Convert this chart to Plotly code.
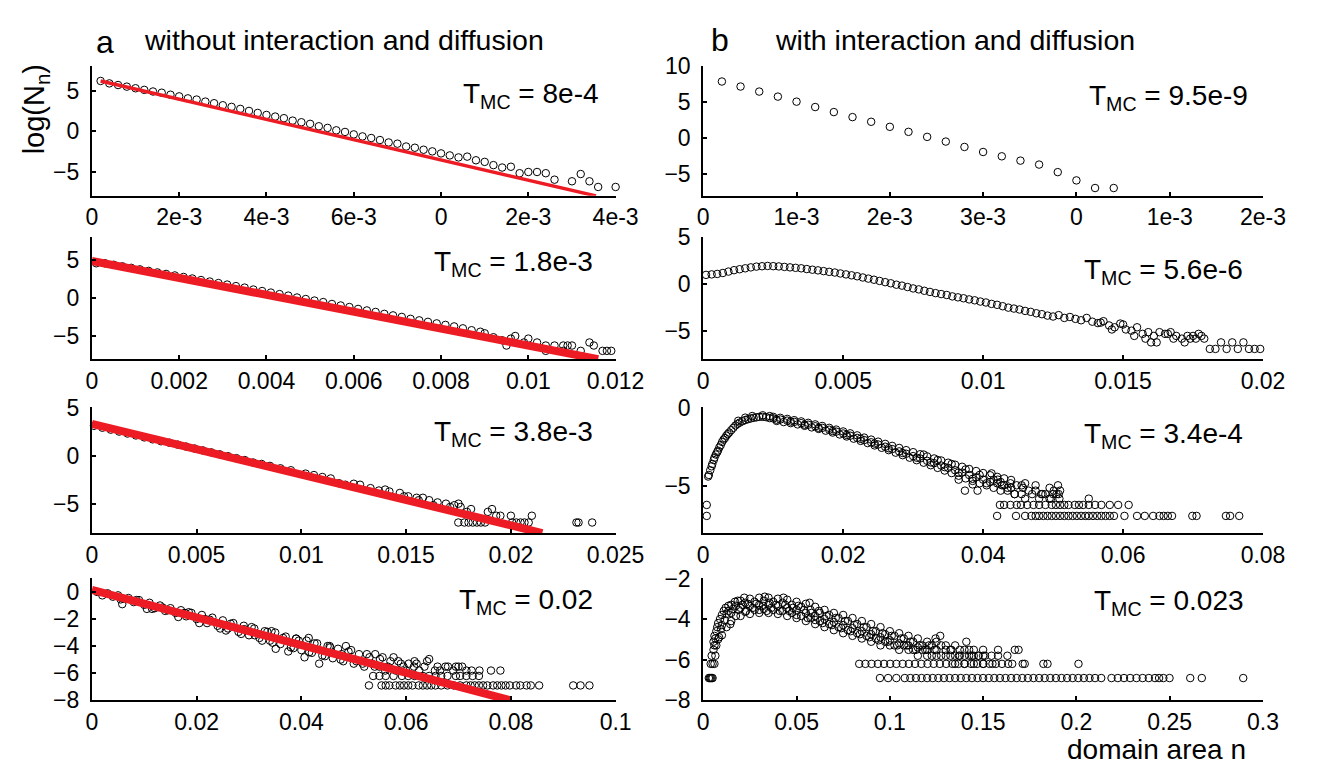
import plotly.graph_objects as go

FONT = "Liberation Sans, Arial, Helvetica, sans-serif"
RED = "#ed1c24"
LV1, LV2 = -6.91, -6.21   # discrete lowest levels (1 and 2 counts)

# ---------------- a1 : T_MC = 8e-4 ----------------
a1_x = [.0002,.0004,.0006,.0008,.0010,.0012,.0014,.0016,.0018,.0020,.0022,.0024,.0026,.0028,.0030,.0032,.0034,.0036,.0038,.0040,
        .0042,.0044,.0046,.0048,.0050,.0052,.0054,.0056,.0058,.0060,.0062,.0064,.0066,.0068,.0070,.0072,.0074,.0076,.0078,.0080,
        .0082,.0084,.0086,.0088,.0090,.0092,.0094,.0096,.0098,.0100,.0102,.0104,.0106,.0110,.0112,.0114,.0116,.0120]
a1_y = [6.2,5.9,5.7,5.5,5.3,5.1,4.9,4.75,4.5,4.3,4.05,3.9,3.65,3.45,3.2,3.0,2.75,2.5,2.25,2.0,
        1.8,1.6,1.3,1.1,0.9,0.6,0.4,0.1,-0.1,-0.4,-0.65,-0.85,-1.1,-1.4,-1.55,-1.9,-2.05,-2.3,-2.5,-2.75,
        -3.0,-3.25,-3.15,-3.6,-3.8,-4.2,-4.5,-4.4,-5.2,-5.05,-5.05,-5.2,-6.0,-6.2,-5.3,-6.2,-6.9,-6.9]
a1_fit_x = [0.0002, 0.01155]
a1_fit_y = [6.2, -8.0]

# ---------------- a2 : T_MC = 1.8e-3 ----------------
a2_x = [.0001,.0003,.0005,.0007,.0009,.0011,.0013,.0015,.0017,.0019,.0021,.0023,.0025,.0027,.0029,.0031,.0033,.0035,.0037,.0039,
        .0041,.0043,.0045,.0047,.0049,.0051,.0053,.0055,.0057,.0059,.0061,.0063,.0065,.0067,.0069,.0071,.0073,.0075,.0077,.0079,
        .0081,.0083,.0085,.0087,.0089]
a2_y = [4.6,4.6,4.4,4.2,4.0,3.8,3.6,3.4,3.2,3.0,2.8,2.6,2.4,2.2,2.0,1.8,1.6,1.4,1.15,0.95,
        0.75,0.55,0.35,0.1,-0.1,-0.3,-0.5,-0.75,-0.95,-1.15,-1.4,-1.6,-1.8,-2.05,-2.25,-2.45,-2.7,-2.9,-3.1,-3.3,
        -3.5,-3.7,-3.95,-4.2,-4.4]
a2_tail_x = [.0090,.0092,.0094,.0095,.0096,.0097,.0099,.0100,.0102,.0104,.0104,.0106,.0108,.0108,.0109,.0110,.0112,.0114,.0115,.0117,.0118,.0119]
a2_tail_y = [-4.6,-5.12,-5.52,-6.21,-5.3,-4.96,-5.81,-5.3,-5.81,-6.21,-6.91,-6.21,-6.21,-6.91,-6.21,-6.21,-6.91,-5.81,-6.21,-6.91,-6.91,-6.91]
a2_fit_x = [0.0, 0.0116]
a2_fit_y = [4.9, -8.0]

# ---------------- a3 : T_MC = 3.8e-3 ----------------
a3_x = [.0001,.0005,.0009,.0013,.0017,.0021,.0025,.0029,.0033,.0037,.0041,.0045,.0049,.0053,.0057,.0061,.0065,.0069,.0073,.0077,.0081,.0085]
a3_y = [3.1,2.9,2.7,2.5,2.3,2.1,1.9,1.7,1.5,1.35,1.15,0.95,0.75,0.55,0.35,0.15,-0.05,-0.25,-0.45,-0.7,-0.85,-1.05]
a3_tail_x = [.0090,.0095,.0102,.0106,.0110,.0114,.0118,.0121,.0125,.0128,.0133,.0137,.0140,.0142,.0147,.0149,.0151,.0155,
             .0156,.0158,.0161,.0163,.0165,.0169,.0171,.0173,.0175,.0176,.0179,.0181,.0189,.0191,.0193,.0195,.0200,.0210]
a3_tail_y = [-1.3,-1.5,-1.85,-2.0,-2.2,-2.35,-2.85,-3.0,-2.9,-3.0,-3.35,-3.6,-3.5,-3.7,-3.85,-4.2,-4.2,-4.35,
             -4.6,-4.35,-4.6,-5.12,-4.83,-4.96,-5.3,-5.12,-4.96,-5.3,-5.81,-5.52,-5.81,-5.52,-6.21,-6.21,-6.21,-6.21]
a3_row1_x = [.01749,.01778,.01798,.01818,.01838,.01857,.01877,.02006,.02026,.02046,.02065,.02085,.02313,.02323,.02388]
a3_fit_x = [0.0, 0.0215]
a3_fit_y = [3.3, -8.0]

# ---------------- a4 : T_MC = 0.02 ----------------
a4_x = [.001,.003,.004,.005,.006,.007,.008,.009,.010,.011,.012,.013,.014,.015,.016,.017,.018,.019,.020,.021,
        .022,.023,.024,.025,.026,.027,.028,.029,.030,.031,.032,.033,.034,.035,.036,.037,.038,.039,.040,.041,
        .042,.043,.044,.045,.046,.047,.048,.049,.050,.051,.052,.053,.054,.055,.056,.057,.058,.059,.060]
a4_y = [0.0,-0.1,-0.35,-0.25,-0.5,-0.45,-0.75,-0.6,-0.95,-0.8,-1.2,-1.0,-1.4,-1.2,-1.55,-1.35,-1.8,-1.55,-2.0,-1.7,
        -2.3,-1.9,-2.5,-2.1,-2.7,-2.3,-2.95,-2.5,-3.2,-2.7,-3.4,-2.9,-3.6,-3.0,-3.85,-3.3,-4.1,-3.45,-4.3,-3.6,
        -4.5,-3.8,-4.7,-4.0,-4.9,-4.2,-5.12,-4.4,-5.3,-4.6,-5.52,-4.83,-5.52,-4.96,-5.81,-5.12,-5.81,-5.3,-5.81]
a4_ext_x = [.0058,.0105,.0145,.0177,.0216,.0256,.0291,.0311,.0343,.0351,.0375,.0390,.0414,.0406,.0434,.0454,.0485,.0477,
            .0517,.0541,.0549,.0576,.0616,.0644,.0675,.0707,.0620,.0640,.0660,.0680,.0700,.0615,.0725,.0762,.0655,.0690]
a4_ext_y = [-0.9,-1.25,-1.35,-1.55,-2.0,-2.85,-2.75,-3.2,-2.9,-4.2,-4.4,-3.45,-3.4,-4.83,-5.3,-4.0,-4.0,-4.6,
            -5.3,-4.6,-5.52,-4.83,-5.12,-4.96,-5.52,-5.52,-5.3,-5.12,-5.52,-5.52,-5.52,-5.52,-5.81,-5.81,-5.81,-5.81]
a4_fill_x = [.0020,.0055,.0085,.0115,.0135,.0165,.0185,.0205,.0225,.0245,.0265,.0285,.0305,.0325,.0335,.0345,.0365,.0385,.0395,.0415,
             .0425,.0445,.0455,.0475,.0495,.0505,.0525,.0535,.0555,.0565,.0585,.0595,.0605,.0625,.0635,.0665,.0695,.0715,.0740,.0780]
a4_fill_y = [-0.25,-0.55,-0.6,-1.25,-1.15,-1.85,-1.5,-2.3,-2.05,-2.7,-2.35,-3.1,-2.6,-3.6,-2.95,-3.75,-3.4,-4.15,-3.6,-4.45,
             -3.8,-4.75,-4.1,-5.0,-4.3,-5.12,-4.6,-5.3,-4.83,-5.52,-5.12,-5.52,-5.3,-5.81,-5.52,-5.81,-5.52,-5.81,-5.81,-5.81]
a4_row2_x = [.0537,.0549,.0561,.0576,.0592,.0604,.0616,.0632,.0644,.0656,.0667,.0679,.0695,.0703,.0715,.0727,.0739]
a4_row1_x = [.0529,.0553,.0561,.0568,.0580,.0588,.0596,.0604,.0612,.0624,.0632,.0640,.0648,.0656,.0667,.0679,.0691,.0703,
             .0715,.0723,.0731,.0739,.0747,.0755,.0766,.0774,.0782,.0790,.0798,.0810,.0818,.0830,.0838,.0854,.0919,.0933,.0950]
a4_fit_x = [0.0, 0.0798]
a4_fit_y = [0.15, -8.0]

# ---------------- b1 : T_MC = 9.5e-9 ----------------
b1_x = [.0002,.0004,.0006,.0008,.0010,.0012,.0014,.0016,.0018,.0020,.0022,.0024,.0026,.0028,.0030,.0032,.0034,.0036,.0038,.0040,.0042,.0044]
b1_y = [7.9,7.2,6.5,5.8,5.1,4.35,3.65,2.95,2.3,1.6,0.9,0.2,-0.45,-1.2,-1.9,-2.5,-3.1,-3.65,-4.7,-5.85,-6.91,-6.91]

# ---------------- b2 : T_MC = 5.6e-6 ----------------
b2_x = [.0001,.0003,.0005,.0007,.0009,.0011,.0013,.0015,.0017,.0019,
        .0021,.0023,.0025,.0027,.0029,.0031,.0033,.0035,.0037,.0039,
        .0041,.0043,.0045,.0047,.0049,.0051,.0053,.0055,.0057,.0059,
        .0061,.0063,.0065,.0067,.0069,.0071,.0073,.0075,.0077,.0079,
        .0081,.0083,.0085,.0087,.0089,.0091,.0093,.0095,.0097,.0099,
        .0101,.0103,.0105,.0107,.0109,.0111,.0113,.0115,.0117,.0119,
        .0121,.0123,.0125,.0127,.0129,.0131,.0133,.0135,.0137,.0139,
        .0141,.0143,.0145,.0147,.0149,.0151,.0153,.0155,.0157,.0159,
        .0161,.0163,.0165,.0167,.0169,.0171,.0173,.0175,.0177,.0179,
        .0181,.0183,.0185,.0187,.0189,.0191,.0193,.0195,.0197,.0199]
b2_y = [1.0,1.05,1.1,1.2,1.35,1.5,1.6,1.7,1.8,1.88,
        1.92,1.95,1.93,1.9,1.85,1.8,1.75,1.7,1.62,1.55,
        1.48,1.4,1.32,1.25,1.15,1.05,0.95,0.85,0.72,0.6,
        0.48,0.35,0.22,0.1,-0.05,-0.15,-0.3,-0.45,-0.55,-0.7,
        -0.82,-0.95,-1.05,-1.15,-1.3,-1.4,-1.5,-1.62,-1.72,-1.85,
        -1.95,-2.1,-2.2,-2.35,-2.5,-2.6,-2.7,-2.85,-2.95,-3.1,
        -3.2,-3.35,-3.45,-3.3,-3.6,-3.5,-3.7,-3.85,-3.6,-4.0,
        -4.15,-3.95,-4.4,-4.6,-4.2,-4.83,-4.96,-4.6,-5.3,-5.12,
        -5.52,-5.12,-5.3,-5.12,-5.52,-5.81,-5.52,-5.52,-5.3,-5.81,
        -6.91,-6.91,-6.21,-6.91,-6.21,-6.91,-6.21,-6.91,-6.91,-6.91]
b2_ext_x = [.0142,.0146,.0150,.0154,.0158,.0160,.0162,.0166,.0172,.0176,.0178,.0168,.0174]
b2_ext_y = [-4.1,-4.83,-4.3,-5.52,-5.81,-6.21,-6.21,-5.3,-6.21,-5.81,-5.52,-5.81,-5.81]

# ---------------- b3 : T_MC = 3.4e-4 ----------------
b3_x = [.0005,.0005,.0007,.0008,.0010,.0012,.0013,.0015,.0016,.0018,.0020,.0021,.0023,.0025,.0027,.0029,.0031,.0033,.0035,.0037,
        .0040,.0043,.0046,.0049,.0052,.0056,.0060,.0064,.0068,.0072,.0076,.0080,.0085,.0090,.0070,.0085,.0095,.0060,.0050]
b3_y = [-6.21,-6.91,-4.4,-4.3,-4.0,-3.75,-3.6,-3.35,-3.2,-3.0,-2.85,-2.75,-2.55,-2.4,-2.2,-2.05,-1.95,-1.8,-1.7,-1.6,
        -1.45,-1.3,-1.15,-1.05,-0.97,-0.88,-0.8,-0.75,-0.7,-0.66,-0.63,-0.6,-0.6,-0.62,-0.55,-0.5,-0.55,-0.65,-0.85]
b3_band_x = [.010,.011,.012,.013,.014,.015,.016,.017,.018,.019,.020,.021,.022,.023,.024,.025,.026,.027,.028,.029,
             .030,.031,.032,.033,.034,.035,.036,.037,.038,.039,.040,.041,.042,.043,.044]
b3_band_lo_x = [.0105,.0115,.0125,.0135,.0145,.0155,.0165,.0175,.0185,.0195,.0205,.0215,.0225,.0235,.0245,.0255,.0265,.0275,.0285,.0295,
                .0305,.0315,.0325,.0335,.0345,.0355,.0365,.0375,.0385,.0395,.0405,.0415,.0425,.0435,.0445]
b3_mid_y = [-0.7,-0.77,-0.84,-0.92,-1.0,-1.1,-1.2,-1.3,-1.42,-1.54,-1.66,-1.8,-1.94,-2.08,-2.22,-2.36,-2.5,-2.65,-2.8,-2.95,
            -3.1,-3.25,-3.4,-3.55,-3.7,-3.85,-4.0,-4.15,-4.3,-4.45,-4.6,-4.75,-4.83,-4.96,-5.12]
b3_up_y = [-0.6,-0.66,-0.73,-0.81,-0.89,-0.98,-1.08,-1.18,-1.3,-1.41,-1.53,-1.65,-1.78,-1.92,-2.05,-2.18,-2.32,-2.45,-2.58,-2.72,
           -2.85,-2.98,-3.12,-3.25,-3.38,-3.52,-3.65,-3.78,-3.92,-4.05,-4.18,-4.32,-4.42,-4.52,-4.62]
b3_lo_y = [-0.86,-0.93,-1.0,-1.08,-1.17,-1.27,-1.37,-1.48,-1.6,-1.72,-1.85,-1.99,-2.13,-2.27,-2.42,-2.57,-2.72,-2.88,-3.04,-3.2,
           -3.36,-3.52,-3.68,-3.85,-4.02,-4.18,-4.35,-4.52,-4.68,-4.83,-4.96,-5.12,-5.3,-5.3,-5.52]
b3_fill_x = [.0095,.0105,.0125,.0145,.0165,.0185,.0205,.0225,.0245,.0265,.0285,.0305,.0315,.0325,.0335,.0345,.0355,.0365,.0375,.0385,
             .0395,.0405,.0415,.0425,.0435,.0455,.0475,.0495,.0385,.0365]
b3_fill_y = [-0.68,-0.78,-0.9,-1.1,-1.3,-1.5,-1.75,-2.0,-2.3,-2.6,-2.9,-3.2,-3.0,-3.5,-3.35,-3.8,-3.6,-4.15,-3.95,-4.55,
             -4.3,-4.83,-4.6,-4.75,-5.12,-4.96,-5.3,-5.12,-4.9,-4.6]
b3_tail_x = [.0374,.0392,.0412,.0421,.0427,.0439,.0448,.0457,.0460,.0475,.0483,.0489,.0501,.0507,.0510,.0551,.0465,.0495,.0505,
             .0445,.0455,.0470,.0485,.0500,.0508,.0460,.0480,.0497,.0509]
b3_tail_y = [-5.3,-5.3,-4.2,-4.6,-4.96,-4.83,-4.96,-5.12,-4.83,-4.96,-5.52,-5.52,-5.3,-4.96,-5.3,-5.81,-5.3,-5.81,-5.52,
             -5.52,-5.52,-5.52,-5.52,-5.52,-5.52,-5.81,-5.81,-5.81,-5.81]
b3_row2_x = [.0424,.0430,.0439,.0448,.0454,.0463,.0472,.0480,.0489,.0498,.0504,.0510,.0516,.0522,.0531,.0537,.0543,.0551,.0560,.0569,.0581,.0593,.0608]
b3_row1_x = [.0420,.0447,.0460,.0469,.0475,.0480,.0486,.0492,.0498,.0504,.0510,.0516,.0522,.0528,.0534,.0540,.0546,.0551,.0557,.0563,
             .0569,.0575,.0581,.0587,.0602,.0620,.0631,.0643,.0652,.0658,.0664,.0670,.0699,.0705,.0747,.0753,.0766]

# ---------------- b4 : T_MC = 0.023 ----------------
b4_grid_x = [.010,.015,.020,.025,.030,.035,.040,.045,.050,.055,.060,.065,.070,.075,.080,.085,.090,.095,.100,.105,
             .110,.115,.120,.125,.130,.135,.140,.145,.150]
b4_up_y = [-3.8,-3.3,-3.1,-3.0,-2.95,-2.95,-3.0,-3.05,-3.15,-3.25,-3.4,-3.55,-3.7,-3.8,-3.95,-4.1,-4.25,-4.4,-4.6,-4.7,
           -4.83,-4.96,-5.12,-5.12,-5.3,-5.3,-5.52,-5.52,-5.52]
b4_mid_y = [-4.3,-3.7,-3.45,-3.35,-3.3,-3.3,-3.35,-3.45,-3.55,-3.7,-3.85,-4.0,-4.15,-4.3,-4.45,-4.6,-4.75,-4.9,-5.05,-5.2,
            -5.3,-5.4,-5.52,-5.52,-5.52,-5.81,-5.81,-5.81,-5.81]
b4_lo_y = [-4.8,-4.1,-3.85,-3.75,-3.7,-3.7,-3.75,-3.85,-3.95,-4.1,-4.25,-4.4,-4.55,-4.7,-4.83,-4.96,-5.12,-5.3,-5.3,-5.52,
           -5.52,-5.81,-5.81,-5.81,-5.81,-6.21,-6.21,-6.21,-6.21]
b4_grid2_x = [.0125,.0175,.0225,.0275,.0325,.0375,.0425,.0475,.0525,.0575,.0625,.0675,.0725,.0775,.0825,.0875,.0925,.0975,.1025,.1075,
              .1125,.1175,.1225,.1275,.1325,.1375,.1425,.1475]
b4_um_y = [-3.75,-3.35,-3.2,-3.15,-3.1,-3.15,-3.2,-3.3,-3.4,-3.55,-3.7,-3.8,-3.95,-4.1,-4.25,-4.4,-4.6,-4.75,-4.83,-4.96,
           -5.12,-5.3,-5.3,-5.3,-5.52,-5.52,-5.52,-5.81]
b4_ml_y = [-4.4,-3.85,-3.65,-3.55,-3.5,-3.55,-3.6,-3.7,-3.85,-3.95,-4.1,-4.25,-4.4,-4.55,-4.7,-4.83,-4.96,-5.12,-5.3,-5.3,
           -5.52,-5.52,-5.81,-5.81,-5.81,-5.81,-5.81,-5.81]
b4_fill_x = [.0115,.0135,.0145,.0160,.0190,.0210,.0230,.0240,.0265,.0285,.0300,.0320,.0340,.0355,.0365,.0390,.0410,.0440,.0460,.0480,
             .0500,.0510,.0540,.0560,.0580,.0600,.0620,.0640,.0660,.0690,.0710,.0740,.0760,.0790,.0810,.0840,.0860,.0890,.0910,.0940,
             .0960,.0990,.1010,.1040,.1060,.1090,.1110,.1140,.1160,.1190,.1210,.1240,.1330,.1370,.1440,.1550,.0220,.0330,.0430,.0570]
b4_fill_y = [-4.05,-3.6,-4.25,-3.5,-3.55,-3.3,-3.6,-3.25,-3.45,-3.25,-3.55,-3.35,-3.6,-3.2,-3.45,-3.3,-3.6,-3.3,-3.6,-3.45,
             -3.8,-3.35,-3.55,-3.95,-3.7,-4.05,-3.6,-4.2,-3.85,-4.3,-3.95,-4.45,-4.1,-4.6,-4.3,-4.75,-4.4,-4.9,-4.6,-5.05,
             -4.7,-5.12,-4.83,-5.3,-4.96,-5.3,-5.12,-5.52,-5.3,-5.52,-5.3,-5.52,-5.52,-5.81,-5.81,-6.21,-2.95,-2.9,-2.95,-3.2]
b4_rise_x = [.0030,.0035,.0040,.0045,.0050,.0040,.0050,.0060,.0045,.0055,.0060,.0055,.0065,.0060,.0070,.0075,.0080,.0085,.0090,.0095,
             .0070,.0065,.0080,.0110,.0120,.0135,.0170,.0185]
b4_rise_y = [-6.91,-6.91,-6.91,-6.91,-6.91,-6.21,-6.21,-6.21,-5.81,-5.52,-5.3,-5.12,-4.96,-4.83,-4.6,-4.4,-4.2,-4.9,-4.0,-4.5,
             -5.3,-5.81,-5.0,-3.6,-3.45,-3.35,-3.15,-3.1]
b4_out_x = [.1270,.1245,.1410,.1510,.1545,.1580,.1630,.1690,.1580,.1670]
b4_out_y = [-4.83,-4.96,-5.12,-5.81,-5.81,-5.81,-5.81,-5.52,-5.52,-5.52]
b4_row2_x = [.0836,.0869,.0902,.0936,.0969,.1002,.1035,.1069,.1102,.1135,.1169,.1202,.1235,.1268,.1302,.1335,.1368,.1401,.1435,.1468,
             .1501,.1534,.1568,.1601,.1634,.1656,.1712,.1723,.1823,.1845,.2011]
b4_row1_x = [.0947,.0991,.1035,.1080,.1110,.1140,.1170,.1200,.1230,.1260,.1290,.1320,.1350,.1380,.1410,.1440,.1470,.1500,.1530,.1560,
             .1590,.1620,.1650,.1680,.1710,.1740,.1770,.1800,.1830,.1860,.1890,.1920,.1950,.1980,.2010,.2040,.2070,.2100,.2133,.2188,
             .2222,.2255,.2288,.2322,.2355,.2388,.2421,.2443,.2466,.2499,.2610,.2672,.2894]

# ---------------- axes / labels ----------------
A1_TICKS = [0, .002, .004, .006, .008, .010, .012]
A1_TEXT = ["0", "2e-3", "4e-3", "6e-3", "0", "2e-3", "4e-3"]
A2_TEXT = ["0", "0.002", "0.004", "0.006", "0.008", "0.01", "0.012"]
A3_TICKS = [0, .005, .01, .015, .02, .025]
A3_TEXT = ["0", "0.005", "0.01", "0.015", "0.02", "0.025"]
A4_TICKS = [0, .02, .04, .06, .08, .1]
A4_TEXT = ["0", "0.02", "0.04", "0.06", "0.08", "0.1"]
B1_TICKS = [0, .001, .002, .003, .004, .005, .006]
B1_TEXT = ["0", "1e-3", "2e-3", "3e-3", "0", "1e-3", "2e-3"]
B2_TICKS = [0, .005, .01, .015, .02]
B2_TEXT = ["0", "0.005", "0.01", "0.015", "0.02"]
B3_TICKS = [0, .02, .04, .06, .08]
B3_TEXT = ["0", "0.02", "0.04", "0.06", "0.08"]
B4_TICKS = [0, .05, .1, .15, .2, .25, .3]
B4_TEXT = ["0", "0.05", "0.1", "0.15", "0.2", "0.25", "0.3"]
T_LABELS = ["8e-4", "1.8e-3", "3.8e-3", "0.02", "9.5e-9", "5.6e-6", "3.4e-4", "0.023"]

W, H = 1321, 767
COLX = [(80, 618), (708, 1283)]
ROWY = [(47, 181), (224, 350), (400, 530), (577, 703)]
T_RIGHT = [603, 597, 597, 597, 1270, 1264, 1264, 1266]
T_TOP = [63, 237, 413, 587, 65, 245, 415, 588]

panels = [
    dict(c=0, r=0, xr=[0, .012], xt=A1_TICKS, xl=A1_TEXT, yr=[-8, 8], yt=[-5, 0, 5],
         pts=[(a1_x, a1_y)], fit=(a1_fit_x, a1_fit_y, 3.5)),
    dict(c=0, r=1, xr=[0, .012], xt=A1_TICKS, xl=A2_TEXT, yr=[-8, 8], yt=[-5, 0, 5],
         pts=[(a2_x, a2_y), (a2_tail_x, a2_tail_y)], fit=(a2_fit_x, a2_fit_y, 8)),
    dict(c=0, r=2, xr=[0, .025], xt=A3_TICKS, xl=A3_TEXT, yr=[-8, 5], yt=[-5, 0, 5],
         pts=[(a3_x, a3_y), (a3_tail_x, a3_tail_y), (a3_row1_x, [LV1] * len(a3_row1_x))],
         fit=(a3_fit_x, a3_fit_y, 8)),
    dict(c=0, r=3, xr=[0, .1], xt=A4_TICKS, xl=A4_TEXT, yr=[-8, 1], yt=[-8, -6, -4, -2, 0],
         pts=[(a4_x, a4_y), (a4_ext_x, a4_ext_y), (a4_fill_x, a4_fill_y), (a4_row2_x, [LV2] * len(a4_row2_x)),
              (a4_row1_x, [LV1] * len(a4_row1_x))], fit=(a4_fit_x, a4_fit_y, 8)),
    dict(c=1, r=0, xr=[0, .006], xt=B1_TICKS, xl=B1_TEXT, yr=[-8, 10], yt=[-5, 0, 5, 10],
         pts=[(b1_x, b1_y)], fit=None),
    dict(c=1, r=1, xr=[0, .02], xt=B2_TICKS, xl=B2_TEXT, yr=[-8, 5], yt=[-5, 0, 5],
         pts=[(b2_x, b2_y), (b2_ext_x, b2_ext_y)], fit=None),
    dict(c=1, r=2, xr=[0, .08], xt=B3_TICKS, xl=B3_TEXT, yr=[-8, 0], yt=[-5, 0],
         pts=[(b3_x, b3_y), (b3_band_x, b3_mid_y), (b3_band_x, b3_up_y), (b3_band_lo_x, b3_lo_y),
              (b3_fill_x, b3_fill_y), (b3_tail_x, b3_tail_y), (b3_row2_x, [LV2] * len(b3_row2_x)),
              (b3_row1_x, [LV1] * len(b3_row1_x))],
         fit=None),
    dict(c=1, r=3, xr=[0, .3], xt=B4_TICKS, xl=B4_TEXT, yr=[-8, -2], yt=[-8, -6, -4, -2],
         pts=[(b4_grid_x, b4_up_y), (b4_grid_x, b4_mid_y), (b4_grid_x, b4_lo_y), (b4_grid2_x, b4_um_y),
              (b4_grid2_x, b4_ml_y), (b4_fill_x, b4_fill_y), (b4_rise_x, b4_rise_y), (b4_out_x, b4_out_y),
              (b4_row2_x, [LV2] * len(b4_row2_x)), (b4_row1_x, [LV1] * len(b4_row1_x))],
         fit=None),
]

fig = go.Figure()
marker = dict(symbol="circle-open", size=7.5, color="black", line=dict(width=1, color="black"))
tickfont = dict(family=FONT, size=23, color="black")
annotations = []

for i, p in enumerate(panels, start=1):
    sfx = "" if i == 1 else str(i)
    x0, x1 = COLX[p["c"]]
    y0, y1 = ROWY[p["r"]]
    for (xs, ys) in p["pts"]:
        n = min(len(xs), len(ys))
        fig.add_trace(go.Scatter(x=xs[:n], y=ys[:n], mode="markers", marker=marker,
                                 cliponaxis=False, xaxis="x" + sfx, yaxis="y" + sfx, hoverinfo="skip"))
    if p["fit"] is not None:
        fx, fy, lw = p["fit"]
        fig.add_trace(go.Scatter(x=fx, y=fy, mode="lines", line=dict(color=RED, width=lw),
                                 cliponaxis=False, xaxis="x" + sfx, yaxis="y" + sfx, hoverinfo="skip"))
    common = dict(showline=True, linecolor="black", linewidth=2, mirror=False, ticks="inside",
                  ticklen=4, tickwidth=1.5, tickcolor="black", showgrid=False, zeroline=False,
                  tickfont=tickfont)
    fig.layout["xaxis" + sfx] = dict(domain=[x0 / W, x1 / W], range=p["xr"], tickmode="array",
                                     tickvals=p["xt"], ticktext=p["xl"], anchor="y" + sfx, **common)
    fig.layout["yaxis" + sfx] = dict(domain=[1 - y1 / H, 1 - y0 / H], range=p["yr"], tickmode="array",
                                     tickvals=p["yt"], anchor="x" + sfx, ticklabelstandoff=6, **common)
    annotations.append(dict(text="T<sub>MC</sub> = " + T_LABELS[i - 1],
                            x=T_RIGHT[i - 1] / W, y=1 - (T_TOP[i - 1] - 6) / H,
                            xanchor="right", yanchor="top",
                            font=dict(family=FONT, size=28, color="black")))

annotations += [
    dict(text="a", x=82 / W, y=1 - 22 / H, xanchor="left", yanchor="middle",
         font=dict(family=FONT, size=32, color="black")),
    dict(text="without interaction and diffusion", x=131 / W, y=1 - 20 / H, xanchor="left", yanchor="middle",
         font=dict(family=FONT, size=28.5, color="black")),
    dict(text="b", x=714 / W, y=1 - 20 / H, xanchor="left", yanchor="middle",
         font=dict(family=FONT, size=32, color="black")),
    dict(text="with interaction and diffusion", x=780 / W, y=1 - 20 / H, xanchor="left", yanchor="middle",
         font=dict(family=FONT, size=28.5, color="black")),
    dict(text="log(N<sub>n</sub>)", x=22 / W, y=1 - 91 / H, xanchor="center", yanchor="middle", textangle=-90,
         font=dict(family=FONT, size=29, color="black")),
    dict(text="domain area n", x=1268 / W, y=1 - 754 / H, xanchor="right", yanchor="middle",
         font=dict(family=FONT, size=28, color="black")),
]
for a in annotations:
    a["xref"] = "paper"
    a["yref"] = "paper"
    a["showarrow"] = False

fig.update_layout(width=W, height=H, margin=dict(l=0, r=0, t=0, b=0), paper_bgcolor="white",
                  plot_bgcolor="white", showlegend=False, annotations=annotations)
fig.write_html("out.html")
